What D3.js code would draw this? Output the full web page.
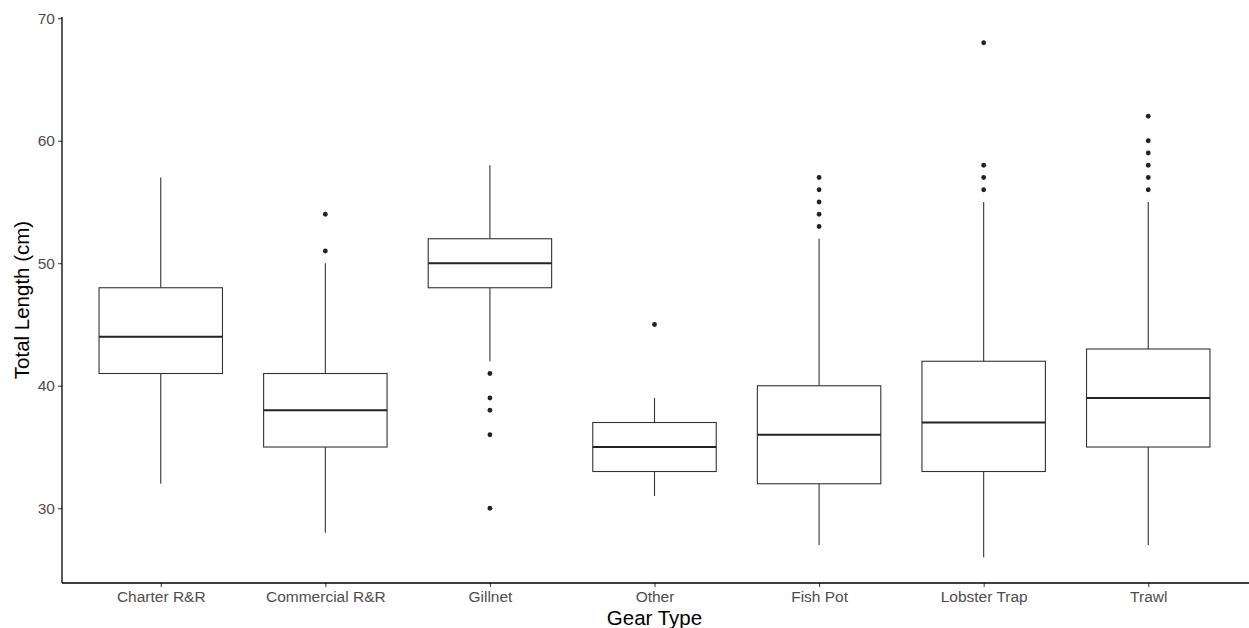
<!DOCTYPE html>
<html>
<head>
<meta charset="utf-8">
<script src="https://cdn.jsdelivr.net/npm/d3@7"></script>
<style>
  body { margin: 0; background: #fff; }
  svg { display: block; font-family: "Liberation Sans", Arial, sans-serif; }
</style>
</head>
<body>
<div class="chart"></div>
<script>
'use strict';
// Data
var categories = ['Charter R&R', 'Commercial R&R', 'Gillnet', 'Other', 'Fish Pot', 'Lobster Trap', 'Trawl'];
var lowerWhisker = [32, 28, 42, 31, 27, 26, 27];
var q1 = [41, 35, 48, 33, 32, 33, 35];
var medians = [44, 38, 50, 35, 36, 37, 39];
var q3 = [48, 41, 52, 37, 40, 42, 43];
var upperWhisker = [57, 50, 58, 39, 52, 55, 55];
var outliers = [
  [],
  [51, 54],
  [41, 39, 38, 36, 30],
  [45],
  [53, 54, 55, 56, 57],
  [56, 57, 58, 68],
  [56, 57, 58, 59, 60, 62]
];
var yTicks = [30, 40, 50, 60, 70];

(function() {
  var w = 1249;
  var h = 628;
  var margin = {top: 17, right: 2, bottom: 45, left: 62};

  var svg = d3.select('.chart')
    .append('svg')
    .attr('width', w)
    .attr('height', h);

  var xScale = d3.scalePoint()
    .domain(categories)
    .range([margin.left, w - margin.right])
    .padding(0.6);

  var yScale = d3.scaleLinear()
    .domain([23.9, 70.1])
    .range([h - margin.bottom, margin.top]);

  var boxW = xScale.step() * 0.75;

  var rows = categories.map(function(c, i) {
    return {cat: c, lo: lowerWhisker[i], q1: q1[i], med: medians[i], q3: q3[i], hi: upperWhisker[i], out: outliers[i]};
  });

  var g = svg.append('g').attr('class', 'boxes');

  var box = g.selectAll('g.box')
    .data(rows)
    .enter()
    .append('g')
    .attr('class', 'box');

  // whiskers
  box.append('line')
    .attr('x1', function(d) { return xScale(d.cat); })
    .attr('x2', function(d) { return xScale(d.cat); })
    .attr('y1', function(d) { return yScale(d.q3); })
    .attr('y2', function(d) { return yScale(d.hi); })
    .attr('stroke', '#333').attr('stroke-width', 1.1);
  box.append('line')
    .attr('x1', function(d) { return xScale(d.cat); })
    .attr('x2', function(d) { return xScale(d.cat); })
    .attr('y1', function(d) { return yScale(d.q1); })
    .attr('y2', function(d) { return yScale(d.lo); })
    .attr('stroke', '#333').attr('stroke-width', 1.1);

  // boxes
  box.append('rect')
    .attr('x', function(d) { return xScale(d.cat) - boxW / 2; })
    .attr('y', function(d) { return yScale(d.q3); })
    .attr('width', boxW)
    .attr('height', function(d) { return yScale(d.q1) - yScale(d.q3); })
    .attr('fill', '#fff')
    .attr('stroke', '#333')
    .attr('stroke-width', 1.1);

  // medians
  box.append('line')
    .attr('x1', function(d) { return xScale(d.cat) - boxW / 2; })
    .attr('x2', function(d) { return xScale(d.cat) + boxW / 2; })
    .attr('y1', function(d) { return yScale(d.med); })
    .attr('y2', function(d) { return yScale(d.med); })
    .attr('stroke', '#222').attr('stroke-width', 2.2);

  // outliers
  box.selectAll('circle')
    .data(function(d) { return d.out.map(function(v) { return {cat: d.cat, v: v}; }); })
    .enter()
    .append('circle')
    .attr('cx', function(d) { return xScale(d.cat); })
    .attr('cy', function(d) { return yScale(d.v); })
    .attr('r', 2.4)
    .attr('fill', '#222');

  // Axes
  var yAxis = d3.axisLeft(yScale).tickValues(yTicks).tickSize(4).tickPadding(3);
  var xAxis = d3.axisBottom(xScale).tickSize(4).tickPadding(4);

  var yg = svg.append('g')
    .attr('transform', 'translate(' + margin.left + ',0)')
    .call(yAxis);
  yg.select('.domain').remove();
  yg.append('line')
    .attr('x1', 0).attr('x2', 0)
    .attr('y1', margin.top).attr('y2', h - margin.bottom)
    .attr('stroke', '#000').attr('stroke-width', 1.3);

  var xg = svg.append('g')
    .attr('transform', 'translate(0,' + (h - margin.bottom) + ')')
    .call(xAxis);
  xg.select('.domain').remove();
  xg.append('line')
    .attr('x1', margin.left).attr('x2', w)
    .attr('y1', 0).attr('y2', 0)
    .attr('stroke', '#000').attr('stroke-width', 1.3);

  svg.selectAll('.tick line').attr('stroke', '#333');
  svg.selectAll('.tick text')
    .attr('fill', '#4d4d4d')
    .style('font-size', '15.5px')
    .style('font-family', '"Liberation Sans", Arial, sans-serif');

  // Titles
  svg.append('text')
    .attr('x', (margin.left + w - margin.right) / 2)
    .attr('y', 625)
    .attr('text-anchor', 'middle')
    .style('font-size', '20.5px')
    .attr('fill', '#000')
    .text('Gear Type');

  svg.append('text')
    .attr('transform', 'translate(29,' + ((margin.top + h - margin.bottom) / 2) + ') rotate(-90)')
    .attr('text-anchor', 'middle')
    .style('font-size', '20.5px')
    .attr('fill', '#000')
    .text('Total Length (cm)');
})();
</script>
</body>
</html>
